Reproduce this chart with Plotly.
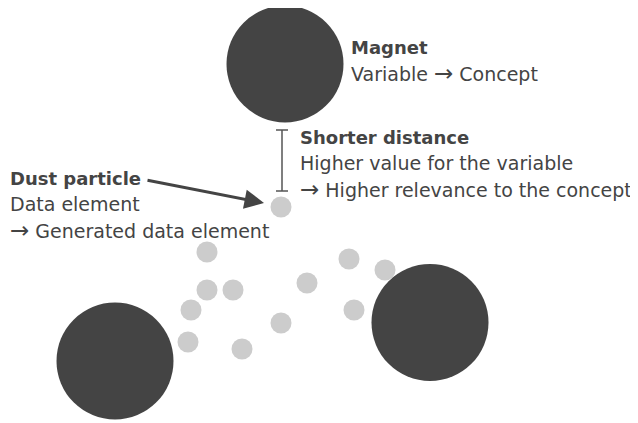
import plotly.graph_objects as go

# Magnets (big dark circles): centre positions in pixel space
magnet_x = [285, 115, 430]
magnet_y = [64, 361, 322.5]

# Dust particles (small grey dots)
dust_x = [281, 207, 207, 233, 191, 188, 242, 281, 307, 349, 385, 354]
dust_y = [207, 252, 290, 290, 310, 342, 349, 323, 283, 259, 270, 310]

# Text blocks
ARW = '<span style="font-size:23px">\u2192</span> '
magnet_lines = ["Magnet", "Variable " + ARW + "Concept"]
distance_lines = ["Shorter distance", "Higher value for the variable", ARW + "Higher relevance to the concept"]
dust_lines = ["Dust particle", "Data element", ARW + "Generated data element"]

W, H = 638, 423
OFF = 8  # page body margin
FONT = "DejaVu Sans"
TXT = "#444444"
FS_BOLD = 18
FS = 19
PITCH = 26

fig = go.Figure()
fig.add_trace(go.Scatter(x=dust_x, y=dust_y, mode="markers",
                         marker=dict(size=21, color="#cccccc", line=dict(width=0)),
                         hoverinfo="skip"))
fig.add_trace(go.Scatter(x=magnet_x, y=magnet_y, mode="markers",
                         marker=dict(size=117, color="#444444", line=dict(width=0)),
                         hoverinfo="skip"))

annotations = []
def block(x, y0, lines):
    for i, t in enumerate(lines):
        bold = i == 0
        txt = f"<b>{t}</b>" if bold else t
        annotations.append(dict(x=x, y=y0 + i * PITCH, xref="x", yref="y", text=txt,
                                showarrow=False, xanchor="left", yanchor="middle",
                                font=dict(family=FONT, size=FS_BOLD if bold else FS, color=TXT)))

block(349, 47, magnet_lines)
block(298, 137, distance_lines)
block(8, 178, dust_lines)

# arrow from "Dust particle" to the dot
annotations.append(dict(x=264, y=203, ax=146, ay=180, xref="x", yref="y",
                        axref="x", ayref="y", text="", showarrow=True,
                        arrowhead=2, arrowsize=1.3, arrowwidth=3, arrowcolor="#444444",
                        standoff=0))

shapes = []
ib_x, ib_top, ib_bot, cap = 282, 130, 191, 6
shapes.append(dict(type="line", x0=ib_x, x1=ib_x, y0=ib_top, y1=ib_bot, xref="x", yref="y",
                   line=dict(color="#555555", width=1.5)))
for yy in (ib_top, ib_bot):
    shapes.append(dict(type="line", x0=ib_x - cap, x1=ib_x + cap, y0=yy, y1=yy, xref="x", yref="y",
                       line=dict(color="#555555", width=1.5)))

fig.update_layout(
    width=W - OFF, height=H - OFF, margin=dict(l=0, r=0, t=0, b=0),
    paper_bgcolor="white", plot_bgcolor="white", showlegend=False,
    xaxis=dict(range=[OFF, W], visible=False, fixedrange=True),
    yaxis=dict(range=[H, OFF], visible=False, fixedrange=True),
    annotations=annotations, shapes=shapes,
)

fig.write_html("out.html")
